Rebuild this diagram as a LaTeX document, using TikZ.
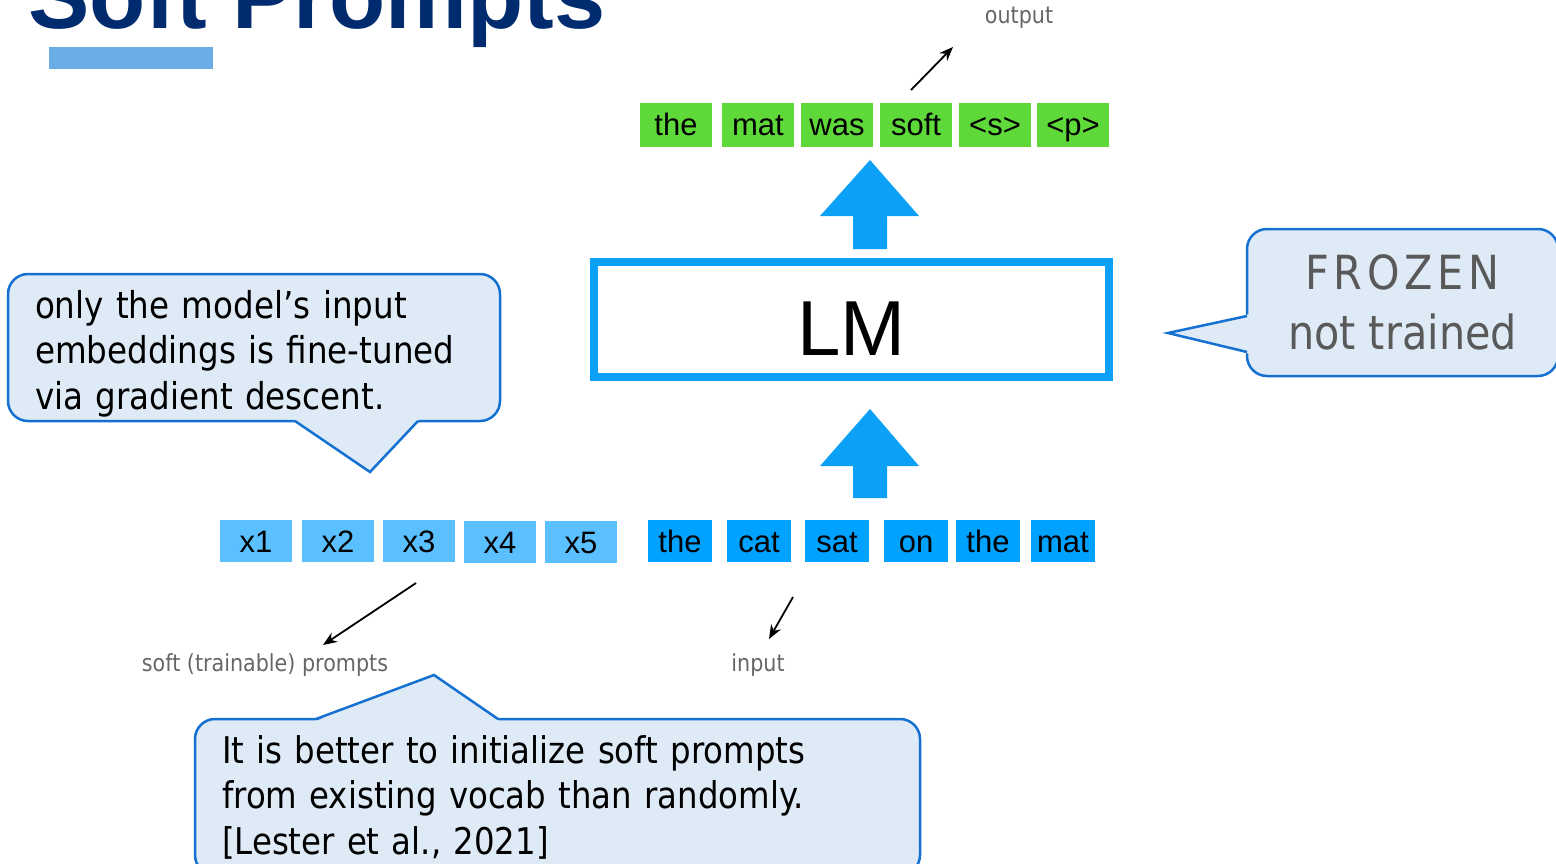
\documentclass[tikz,border=0pt]{standalone}
\usepackage{fontspec}
\setmainfont{Liberation Sans}
\newfontfamily\tahoma[FakeStretch=0.88]{DejaVu Sans}
\usetikzlibrary{arrows.meta, positioning}
\definecolor{navy}{HTML}{002B6E}
\definecolor{barblue}{HTML}{6AACE6}
\definecolor{outgreen}{HTML}{5FD83A}
\definecolor{inblue}{HTML}{00A2FF}
\definecolor{softblue}{HTML}{5BC0FF}
\definecolor{lmblue}{HTML}{0CA0F7}
\definecolor{callfill}{HTML}{DFEAF7}
\definecolor{calledge}{HTML}{1471D1}
\definecolor{labgray}{HTML}{666666}
\definecolor{frogray}{HTML}{595959}
\tikzset{%
    tok/.style={rectangle, inner sep=0pt, minimum height=42pt, text height=22pt, text depth=0pt, font=\fontsize{31}{31}\selectfont, text=black},
    otok/.style={tok, fill=outgreen, minimum width=72pt, minimum height=44pt},
    itok/.style={tok, fill=inblue, minimum width=64pt},
    stok/.style={tok, fill=softblue, minimum width=72pt},
    lab/.style={font=\tahoma\fontsize{23.5}{23.5}\selectfont, text=labgray, inner sep=0pt},
    call/.style={rectangle, rounded corners=20pt, fill=callfill, draw=calledge, line width=2.5pt},
    callp/.style={draw=calledge, line width=2.5pt, line join=miter},
    sketch/.style={line width=1.8pt, -{Stealth[length=14pt, width=11pt]}},
    blk/.style={fill=lmblue},
}
\begin{document}
\begin{tikzpicture}[x=1pt, y=1pt]
    \useasboundingbox (0,0) rectangle (1556,-864);
    \clip (0,0) rectangle (1556,-864);
    % title
    \node [anchor=base west, inner sep=0pt, font=\fontsize{92}{92}\selectfont\bfseries, text=navy] (title) at (28,-29) {Soft Prompts};
    \fill [barblue] (49,-47) rectangle (213,-69);
    % output row
    \node [otok] (o1) at (676,-125) {the};
    \node [otok] (o2) at (758,-125) {mat};
    \node [otok] (o3) at (837,-125) {was};
    \node [otok] (o4) at (916,-125) {soft};
    \node [otok] (o5) at (995,-125) {<s>};
    \node [otok] (o6) at (1073,-125) {<p>};
    % language model
    \node [draw=lmblue, line width=8pt, fill=white, minimum width=515pt, minimum height=115pt] (lm) at (851.5,-319.5) {};
    \node [font=\fontsize{78}{78}\selectfont, inner sep=0pt] (lmlab) at ([yshift=-9pt]lm.center) {LM};
    \fill [blk] (853,-249) -- (853,-216) -- (820,-216) -- (870,-160) -- (919,-216) -- (887,-216) -- (887,-249) -- cycle;
    \fill [blk] (853,-498) -- (853,-466) -- (820,-466) -- (870,-409) -- (919,-466) -- (887,-466) -- (887,-498) -- cycle;
    % soft prompt row
    \node [stok] (x1) at (256,-541) {x1};
    \node [stok] (x2) at (338,-541) {x2};
    \node [stok] (x3) at (419,-541) {x3};
    \node [stok] (x4) at (500,-542) {x4};
    \node [stok] (x5) at (581,-542) {x5};
    % input row
    \node [itok] (i1) at (680,-541) {the};
    \node [itok] (i2) at (759,-541) {cat};
    \node [itok] (i3) at (837,-541) {sat};
    \node [itok] (i4) at (916,-541) {on};
    \node [itok] (i5) at (988,-541) {the};
    \node [itok] (i6) at (1063,-541) {mat};
    % small labels
    \node [lab] (outlab) at (1019,-18) {output};
    \node [lab] (softlab) at (265,-665) {soft (trainable) prompts};
    \node [lab] (inlab) at (758,-665) {input};
    \coordinate (outtail) at (911,-90);
    \coordinate (outtip) at (953,-47);
    \coordinate (softtail) at (416,-583);
    \coordinate (softtip) at (323,-645);
    \coordinate (intail) at (793,-597);
    \coordinate (intip) at (769,-639);
    \draw [sketch] (outtail) -- (outtip);
    \draw [sketch] (softtail) -- (softtip);
    \draw [sketch] (intail) -- (intip);
    % callouts
    \node [call, text width=438pt, inner xsep=27pt, minimum height=147pt, align=left, font=\tahoma\fontsize{37}{45.5}\selectfont] (tune) at (254,-347.5) {\rule{0pt}{40pt}only the model’s input\\embeddings is fine-tuned\\via gradient descent.};
    \fill [callfill] (293,-418.5) -- (370,-472) -- (420,-418.5) -- cycle;
    \draw [callp] (295,-421) -- (370,-472) -- (418,-421);
    \node [call, minimum width=311pt, minimum height=147pt, align=center, text=frogray, font=\tahoma\fontsize{47}{60}\selectfont] (frozen) at (1402.5,-302.5) {{\addfontfeature{LetterSpace=10}FROZEN}\\not trained};
    \fill [callfill] (1249.5,-314) -- (1168,-333) -- (1249.5,-354) -- cycle;
    \draw [callp] (1247,-316) -- (1168,-333) -- (1247,-352);
    \node [call, minimum width=725pt, minimum height=156pt, text width=671pt, inner xsep=27pt, align=left, font=\tahoma\fontsize{36.8}{45.5}\selectfont] (init) at (557.5,-797) {It is better to initialize soft prompts\\from existing vocab than randomly.\\{}[Lester et al., 2021]};
    \fill [callfill] (314,-721.5) -- (434,-675) -- (500,-721.5) -- cycle;
    \draw [callp] (316,-719) -- (434,-675) -- (498,-719);
\end{tikzpicture}
\end{document}
